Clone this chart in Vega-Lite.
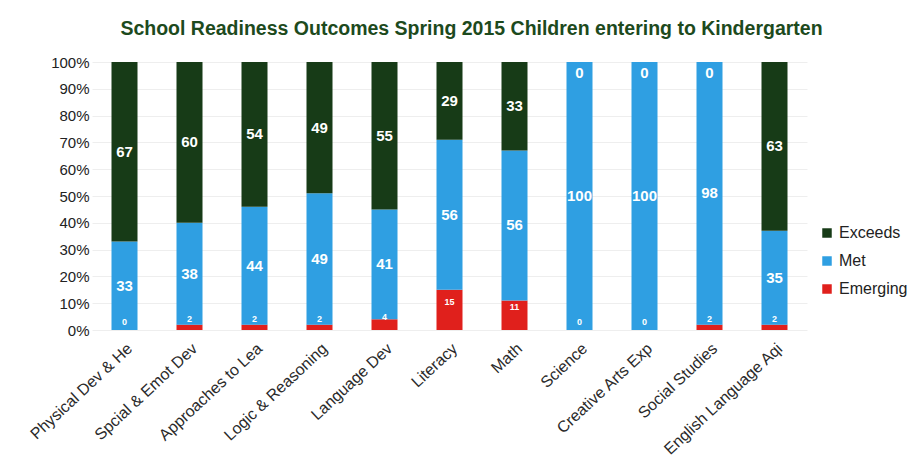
{
  "$schema": "https://vega.github.io/schema/vega-lite/v6.json",
  "width": 715,
  "height": 268,
  "autosize": "none",
  "padding": {"left": 92, "top": 62, "right": 109, "bottom": 145},
  "background": "white",
  "config": {
    "font": "Liberation Sans",
    "view": {"stroke": null}
  },
  "title": {
    "text": "School Readiness Outcomes Spring 2015 Children entering to Kindergarten",
    "fontSize": 19.5,
    "fontWeight": "bold",
    "color": "#1d4a1d",
    "anchor": "middle",
    "dx": 22,
    "offset": 16
  },
  "data": {
    "values": [
      {"domain": "Physical Dev & He", "level": "Emerging", "value": 0, "rank": 1},
      {"domain": "Physical Dev & He", "level": "Met", "value": 33, "rank": 2},
      {"domain": "Physical Dev & He", "level": "Exceeds", "value": 67, "rank": 3},
      {"domain": "Spcial & Emot Dev", "level": "Emerging", "value": 2, "rank": 1},
      {"domain": "Spcial & Emot Dev", "level": "Met", "value": 38, "rank": 2},
      {"domain": "Spcial & Emot Dev", "level": "Exceeds", "value": 60, "rank": 3},
      {"domain": "Approaches to Lea", "level": "Emerging", "value": 2, "rank": 1},
      {"domain": "Approaches to Lea", "level": "Met", "value": 44, "rank": 2},
      {"domain": "Approaches to Lea", "level": "Exceeds", "value": 54, "rank": 3},
      {"domain": "Logic & Reasoning", "level": "Emerging", "value": 2, "rank": 1},
      {"domain": "Logic & Reasoning", "level": "Met", "value": 49, "rank": 2},
      {"domain": "Logic & Reasoning", "level": "Exceeds", "value": 49, "rank": 3},
      {"domain": "Language Dev", "level": "Emerging", "value": 4, "rank": 1},
      {"domain": "Language Dev", "level": "Met", "value": 41, "rank": 2},
      {"domain": "Language Dev", "level": "Exceeds", "value": 55, "rank": 3},
      {"domain": "Literacy", "level": "Emerging", "value": 15, "rank": 1},
      {"domain": "Literacy", "level": "Met", "value": 56, "rank": 2},
      {"domain": "Literacy", "level": "Exceeds", "value": 29, "rank": 3},
      {"domain": "Math", "level": "Emerging", "value": 11, "rank": 1},
      {"domain": "Math", "level": "Met", "value": 56, "rank": 2},
      {"domain": "Math", "level": "Exceeds", "value": 33, "rank": 3},
      {"domain": "Science", "level": "Emerging", "value": 0, "rank": 1},
      {"domain": "Science", "level": "Met", "value": 100, "rank": 2},
      {"domain": "Science", "level": "Exceeds", "value": 0, "rank": 3},
      {"domain": "Creative Arts Exp", "level": "Emerging", "value": 0, "rank": 1},
      {"domain": "Creative Arts Exp", "level": "Met", "value": 100, "rank": 2},
      {"domain": "Creative Arts Exp", "level": "Exceeds", "value": 0, "rank": 3},
      {"domain": "Social Studies", "level": "Emerging", "value": 2, "rank": 1},
      {"domain": "Social Studies", "level": "Met", "value": 98, "rank": 2},
      {"domain": "Social Studies", "level": "Exceeds", "value": 0, "rank": 3},
      {"domain": "English Language Aqi", "level": "Emerging", "value": 2, "rank": 1},
      {"domain": "English Language Aqi", "level": "Met", "value": 35, "rank": 2},
      {"domain": "English Language Aqi", "level": "Exceeds", "value": 63, "rank": 3}
    ]
  },
  "transform": [
    {
      "stack": "value",
      "groupby": ["domain"],
      "sort": [{"field": "rank", "order": "ascending"}],
      "offset": "normalize",
      "as": ["y0", "y1"]
    },
    {"calculate": "(datum.y0 + datum.y1) / 2", "as": "mid"}
  ],
  "encoding": {
    "x": {
      "field": "domain",
      "type": "nominal",
      "sort": null,
      "title": null,
      "scale": {"paddingInner": 0.6, "paddingOuter": 0.3},
      "axis": {
        "labelAngle": -43,
        "labelFontSize": 16,
        "labelColor": "#2a2a2a",
        "labelPadding": 10,
        "ticks": false,
        "domain": false
      }
    }
  },
  "layer": [
    {
      "mark": {"type": "bar"},
      "encoding": {
        "y": {
          "field": "y0",
          "type": "quantitative",
          "title": null,
          "scale": {"domain": [0, 1]},
          "axis": {
            "format": ".0%",
            "values": [0, 0.1, 0.2, 0.3, 0.4, 0.5, 0.6, 0.7, 0.8, 0.9, 1],
            "labelOverlap": false,
            "labelFontSize": 15,
            "labelColor": "#222222",
            "labelPadding": 3,
            "ticks": false,
            "domain": false,
            "gridColor": "#eeeeee"
          }
        },
        "y2": {"field": "y1"},
        "color": {
          "field": "level",
          "type": "nominal",
          "scale": {
            "domain": ["Exceeds", "Met", "Emerging"],
            "range": ["#173b17", "#2f9fe2", "#e0201c"]
          },
          "legend": {
            "title": null,
            "orient": "none",
            "legendX": 727,
            "legendY": 163,
            "symbolType": "square",
            "symbolSize": 90,
            "symbolStrokeWidth": 0,
            "labelFontSize": 16,
            "labelColor": "#222222",
            "rowPadding": 12
          }
        }
      }
    },
    {
      "transform": [{"filter": "datum.level != 'Emerging' && datum.value > 0"}],
      "mark": {"type": "text", "color": "white", "fontSize": 15, "fontWeight": "bold"},
      "encoding": {
        "y": {
          "field": "mid",
          "type": "quantitative",
          "title": null,
          "axis": {
            "format": ".0%",
            "values": [0, 0.1, 0.2, 0.3, 0.4, 0.5, 0.6, 0.7, 0.8, 0.9, 1],
            "labelOverlap": false,
            "labelFontSize": 15,
            "labelColor": "#222222",
            "labelPadding": 3,
            "ticks": false,
            "domain": false,
            "gridColor": "#eeeeee"
          }
        },
        "text": {"field": "value", "type": "quantitative"}
      }
    },
    {
      "transform": [{"filter": "datum.level == 'Exceeds' && datum.value == 0"}],
      "mark": {"type": "text", "color": "white", "fontSize": 15, "fontWeight": "bold", "dy": 11},
      "encoding": {
        "y": {
          "field": "mid",
          "type": "quantitative",
          "title": null,
          "axis": {
            "format": ".0%",
            "values": [0, 0.1, 0.2, 0.3, 0.4, 0.5, 0.6, 0.7, 0.8, 0.9, 1],
            "labelOverlap": false,
            "labelFontSize": 15,
            "labelColor": "#222222",
            "labelPadding": 3,
            "ticks": false,
            "domain": false,
            "gridColor": "#eeeeee"
          }
        },
        "text": {"field": "value", "type": "quantitative"}
      }
    },
    {
      "transform": [{"filter": "datum.level == 'Emerging'"}],
      "mark": {"type": "text", "color": "white", "fontSize": 9, "fontWeight": "bold", "dy": -8},
      "encoding": {
        "y": {
          "field": "mid",
          "type": "quantitative",
          "title": null,
          "axis": {
            "format": ".0%",
            "values": [0, 0.1, 0.2, 0.3, 0.4, 0.5, 0.6, 0.7, 0.8, 0.9, 1],
            "labelOverlap": false,
            "labelFontSize": 15,
            "labelColor": "#222222",
            "labelPadding": 3,
            "ticks": false,
            "domain": false,
            "gridColor": "#eeeeee"
          }
        },
        "text": {"field": "value", "type": "quantitative"}
      }
    }
  ]
}
